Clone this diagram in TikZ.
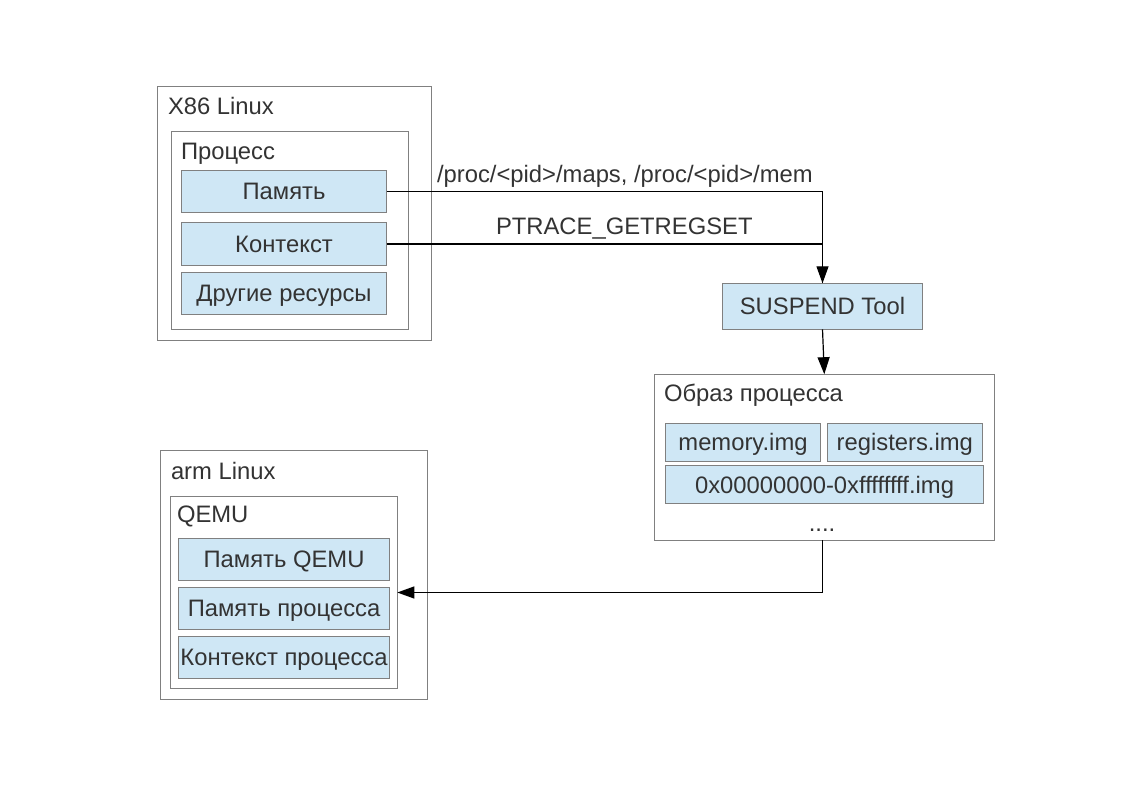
\documentclass[tikz,border=0pt]{standalone}
\usepackage{fontspec}
\setmainfont{Liberation Sans}
\usetikzlibrary{arrows.meta}
\definecolor{boxfill}{RGB}{207,231,245}
\definecolor{boxline}{RGB}{128,128,128}
\definecolor{txt}{RGB}{51,51,51}
\begin{document}
\begin{tikzpicture}[x=1pt,y=-1pt,
  every node/.style={font=\fontsize{23.8}{28}\selectfont, text=txt, inner sep=0pt, outer sep=0pt},
  frame/.style={draw=boxline, line width=1pt, fill=white},
  bluebox/.style={draw=boxline, line width=1pt, fill=boxfill, text height=17pt, text depth=0pt},
  caption/.style={anchor=base west},
  conn/.style={draw=black, line width=1.2pt},
  arr/.style={conn, -{Triangle[length=17pt,width=12pt]}}
]
\useasboundingbox (0,0) rectangle (1123,794);

% X86 Linux
\node[frame, minimum width=274pt, minimum height=253pt] (x86) at (294,213.5) {};
\node[caption] (x86lbl) at (168,115) {X86 Linux};
\node[frame, minimum width=237pt, minimum height=197pt] (proc) at (289.5,230.5) {};
\node[caption] (proclbl) at (181,160) {Процесс};
\node[bluebox, minimum width=205pt, minimum height=42pt] (mem) at (284,191.5) {Память};
\node[bluebox, minimum width=205pt, minimum height=42pt] (ctx) at (284,244) {Контекст};
\node[bluebox, minimum width=205pt, minimum height=42pt] (oth) at (284,293) {Другие ресурсы};

% SUSPEND Tool
\node[bluebox, minimum width=200pt, minimum height=46pt] (tool) at (822.5,306.3) {SUSPEND Tool};

% Image
\node[frame, minimum width=340pt, minimum height=166pt] (image) at (824.3,457.2) {};
\node[caption] (imglbl) at (664,401) {Образ процесса};
\node[bluebox, minimum width=154.6pt, minimum height=37.7pt] (memimg) at (743,442.2) {memory.img};
\node[bluebox, minimum width=155pt, minimum height=37.7pt] (regimg) at (904.8,442.2) {registers.img};
\node[bluebox, minimum width=317.6pt, minimum height=37.6pt] (rngimg) at (824.5,484.5) {0x00000000-0xffffffff.img};
\node[anchor=base] (dots) at (822,531) {....};

% arm Linux
\node[frame, minimum width=267pt, minimum height=248.6pt] (arm) at (294.2,575) {};
\node[caption] (armlbl) at (171,479.3) {arm Linux};
\node[frame, minimum width=226.6pt, minimum height=191.6pt] (qemu) at (284,592.5) {};
\node[caption] (qemulbl) at (177,522.5) {QEMU};
\node[bluebox, minimum width=211.4pt, minimum height=41.7pt] (qmem) at (284,559.2) {Память QEMU};
\node[bluebox, minimum width=211.4pt, minimum height=41.7pt] (pmem) at (284,608.2) {Память процесса};
\node[bluebox, minimum width=211.4pt, minimum height=42pt] (pctx) at (284,657.3) {Контекст процесса};

% labels
\node[caption] (l1) at (437,183) {/proc/<pid>/maps, /proc/<pid>/mem};
\node[caption] (l2) at (496,235) {PTRACE\_GETREGSET};

% connectors
\draw[conn] (mem.east) -| (tool.north);
\draw[arr] (ctx.east) -| (tool.north);
\draw[arr] (tool.south) -- (image.north);
\draw[arr] (tool.south |- image.south) |- (qemu.east);
\end{tikzpicture}
\end{document}
